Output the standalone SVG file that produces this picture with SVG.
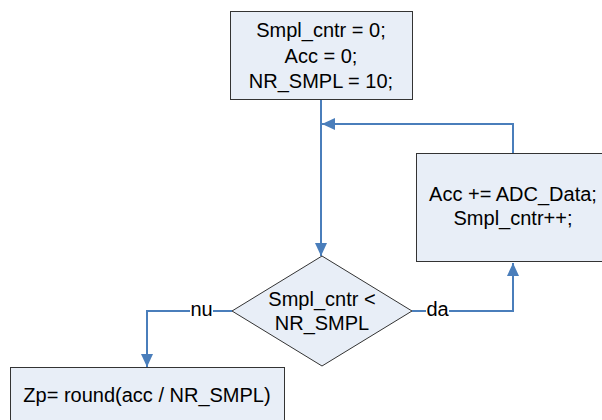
<svg xmlns="http://www.w3.org/2000/svg" width="602" height="420" viewBox="0 0 602 420">
<style>
.box{fill:#E8EEF7;stroke:#333;stroke-width:1}
.t{font-family:"Liberation Sans",Arial,sans-serif;font-size:20px;fill:#000;text-anchor:middle}
.c{fill:none;stroke:#4A7EBB;stroke-width:2}
.lb{fill:#fff}
</style>
<defs>
<marker id="ah" markerUnits="userSpaceOnUse" markerWidth="14" markerHeight="12" refX="13" refY="6" orient="auto">
<path d="M0,0 L13,6 L0,12 z" fill="#4A7EBB"/>
</marker>
</defs>
<rect width="602" height="420" fill="#fff"/>
<g id="connectors">
<path class="c" d="M321,99 V256" marker-end="url(#ah)"/>
<path class="c" d="M513,153 V124 H322" marker-end="url(#ah)"/>
<path class="c" d="M412,311 H513 V263" marker-end="url(#ah)"/>
<path class="c" d="M232,311 H147 V367" marker-end="url(#ah)"/>
<rect class="lb" x="190" y="300" width="23" height="20"/>
<text class="t" x="201.5" y="316">nu</text>
<rect class="lb" x="426" y="300" width="23" height="20"/>
<text class="t" x="437.5" y="316">da</text>
</g>
<g id="init">
<rect class="box" x="230.5" y="11.5" width="182" height="88"/>
<text class="t" x="321" y="37">Smpl_cntr = 0;</text>
<text class="t" x="321" y="63">Acc = 0;</text>
<text class="t" x="321" y="88">NR_SMPL = 10;</text>
</g>
<g id="accumulate">
<rect class="box" x="416.5" y="153.5" width="200" height="108"/>
<text class="t" x="513" y="201">Acc += ADC_Data;</text>
<text class="t" x="513" y="225">Smpl_cntr++;</text>
</g>
<g id="decision">
<polygon class="box" points="322,256 412,311 322,366 232,311"/>
<text class="t" x="322" y="306">Smpl_cntr &lt;</text>
<text class="t" x="322" y="330">NR_SMPL</text>
</g>
<g id="result">
<rect class="box" x="10.5" y="367.5" width="274" height="70"/>
<text class="t" x="147" y="402">Zp= round(acc / NR_SMPL)</text>
</g>
</svg>
